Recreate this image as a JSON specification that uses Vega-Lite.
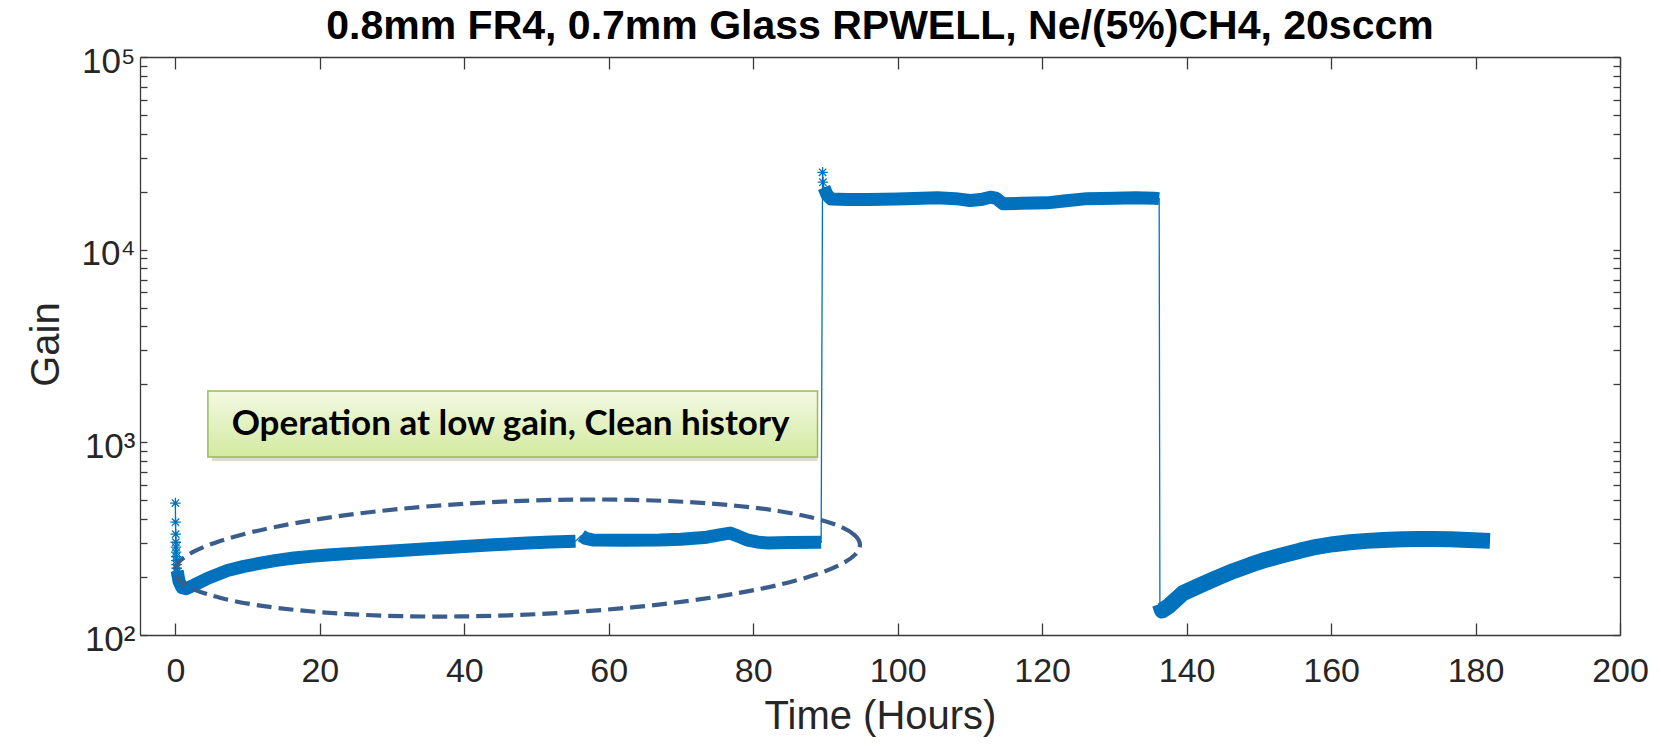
{
  "$schema": "https://vega.github.io/schema/vega-lite/v6.json",
  "width": 1480,
  "height": 578,
  "autosize": {"type": "none"},
  "padding": {"left": 140, "top": 57, "right": 39, "bottom": 112},
  "background": "white",
  "title": {
    "text": "0.8mm FR4, 0.7mm Glass RPWELL, Ne/(5%)CH4, 20sccm",
    "font": "Liberation Sans",
    "fontSize": 41,
    "fontWeight": "bold",
    "color": "#000000",
    "anchor": "middle",
    "frame": "group",
    "baseline": "alphabetic",
    "offset": -36
  },
  "config": {"view": {"stroke": null}, "font": "Liberation Sans"},
  "datasets": {
    "gain": [
      {"t": 0.00, "gain": 484, "part": "a"},
      {"t": 0.02, "gain": 385, "part": "a"},
      {"t": 0.04, "gain": 334, "part": "a"},
      {"t": 0.06, "gain": 303, "part": "a"},
      {"t": 0.08, "gain": 286, "part": "a"},
      {"t": 0.10, "gain": 269, "part": "a"},
      {"t": 0.12, "gain": 255, "part": "a"},
      {"t": 0.14, "gain": 243, "part": "a"},
      {"t": 0.16, "gain": 232, "part": "a"},
      {"t": 0.18, "gain": 222, "part": "a"},
      {"t": 0.20, "gain": 212, "part": "a"},
      {"t": 0.22, "gain": 203, "part": "a"},
      {"t": 0.25, "gain": 215, "part": "s1"},
      {"t": 0.5, "gain": 190, "part": "s1"},
      {"t": 0.9, "gain": 176, "part": "s1"},
      {"t": 1.5, "gain": 174, "part": "s1"},
      {"t": 2.5, "gain": 181, "part": "s1"},
      {"t": 4.5, "gain": 197, "part": "s1"},
      {"t": 7.2, "gain": 216, "part": "s1"},
      {"t": 9.5, "gain": 227, "part": "s1"},
      {"t": 11.8, "gain": 236, "part": "s1"},
      {"t": 14, "gain": 244, "part": "s1"},
      {"t": 16.4, "gain": 251, "part": "s1"},
      {"t": 18.7, "gain": 256, "part": "s1"},
      {"t": 21, "gain": 260, "part": "s1"},
      {"t": 25, "gain": 266, "part": "s1"},
      {"t": 30, "gain": 273, "part": "s1"},
      {"t": 35, "gain": 280, "part": "s1"},
      {"t": 40, "gain": 288, "part": "s1"},
      {"t": 44, "gain": 294, "part": "s1"},
      {"t": 48.7, "gain": 300, "part": "s1"},
      {"t": 52, "gain": 304, "part": "s1"},
      {"t": 55.4, "gain": 307, "part": "s1"},
      {"t": 56.2, "gain": 328, "part": "s2"},
      {"t": 56.8, "gain": 317, "part": "s2"},
      {"t": 57.9, "gain": 311, "part": "s2"},
      {"t": 62, "gain": 310, "part": "s2"},
      {"t": 67, "gain": 311, "part": "s2"},
      {"t": 70, "gain": 314, "part": "s2"},
      {"t": 73.6, "gain": 322, "part": "s2"},
      {"t": 75.5, "gain": 332, "part": "s2"},
      {"t": 76.8, "gain": 338, "part": "s2"},
      {"t": 78, "gain": 325, "part": "s2"},
      {"t": 79.1, "gain": 312, "part": "s2"},
      {"t": 80.5, "gain": 304, "part": "s2"},
      {"t": 82, "gain": 300, "part": "s2"},
      {"t": 85, "gain": 302, "part": "s2"},
      {"t": 89.4, "gain": 303, "part": "s2"},
      {"t": 89.6, "gain": 25200, "part": "k"},
      {"t": 89.65, "gain": 22400, "part": "k"},
      {"t": 89.8, "gain": 21000, "part": "s3"},
      {"t": 90.2, "gain": 19300, "part": "s3"},
      {"t": 90.8, "gain": 18300, "part": "s3"},
      {"t": 93, "gain": 18200, "part": "s3"},
      {"t": 96, "gain": 18200, "part": "s3"},
      {"t": 100, "gain": 18300, "part": "s3"},
      {"t": 105.5, "gain": 18600, "part": "s3"},
      {"t": 108, "gain": 18400, "part": "s3"},
      {"t": 110, "gain": 18000, "part": "s3"},
      {"t": 111.5, "gain": 18200, "part": "s3"},
      {"t": 112.8, "gain": 18700, "part": "s3"},
      {"t": 113.6, "gain": 18500, "part": "s3"},
      {"t": 114.6, "gain": 17300, "part": "s3"},
      {"t": 117, "gain": 17400, "part": "s3"},
      {"t": 120.7, "gain": 17500, "part": "s3"},
      {"t": 123, "gain": 17900, "part": "s3"},
      {"t": 126.2, "gain": 18400, "part": "s3"},
      {"t": 130, "gain": 18500, "part": "s3"},
      {"t": 133, "gain": 18600, "part": "s3"},
      {"t": 135.5, "gain": 18500, "part": "s3"},
      {"t": 136.2, "gain": 18400, "part": "s3"},
      {"t": 136.3, "gain": 145, "part": "s4"},
      {"t": 136.6, "gain": 134, "part": "s4"},
      {"t": 137.5, "gain": 141, "part": "s4"},
      {"t": 139.5, "gain": 165, "part": "s4"},
      {"t": 142, "gain": 182, "part": "s4"},
      {"t": 144.2, "gain": 198, "part": "s4"},
      {"t": 146.5, "gain": 215, "part": "s4"},
      {"t": 148.8, "gain": 231, "part": "s4"},
      {"t": 151, "gain": 246, "part": "s4"},
      {"t": 153.4, "gain": 260, "part": "s4"},
      {"t": 155.7, "gain": 274, "part": "s4"},
      {"t": 158, "gain": 287, "part": "s4"},
      {"t": 160.3, "gain": 296, "part": "s4"},
      {"t": 162.6, "gain": 303, "part": "s4"},
      {"t": 165, "gain": 308, "part": "s4"},
      {"t": 167.2, "gain": 311, "part": "s4"},
      {"t": 170, "gain": 314, "part": "s4"},
      {"t": 172, "gain": 315, "part": "s4"},
      {"t": 174, "gain": 315, "part": "s4"},
      {"t": 176.5, "gain": 314, "part": "s4"},
      {"t": 179, "gain": 311, "part": "s4"},
      {"t": 182, "gain": 308, "part": "s4"}
    ],
    "ellipse": [
      {"i": 0, "t": 94.77, "gain": 294.9},
      {"i": 1, "t": 93.99, "gain": 331.1},
      {"i": 2, "t": 91.81, "gain": 368.7},
      {"i": 3, "t": 88.26, "gain": 405.7},
      {"i": 4, "t": 83.47, "gain": 440.1},
      {"i": 5, "t": 77.59, "gain": 468.8},
      {"i": 6, "t": 70.78, "gain": 490.6},
      {"i": 7, "t": 63.27, "gain": 502.7},
      {"i": 8, "t": 55.27, "gain": 504.5},
      {"i": 9, "t": 47.02, "gain": 495.7},
      {"i": 10, "t": 38.80, "gain": 476.8},
      {"i": 11, "t": 30.82, "gain": 450.2},
      {"i": 12, "t": 23.35, "gain": 417.6},
      {"i": 13, "t": 16.61, "gain": 380.7},
      {"i": 14, "t": 10.80, "gain": 343.4},
      {"i": 15, "t": 6.10, "gain": 306.8},
      {"i": 16, "t": 2.66, "gain": 272.2},
      {"i": 17, "t": 0.57, "gain": 241.0},
      {"i": 18, "t": -0.10, "gain": 213.6},
      {"i": 19, "t": 0.68, "gain": 190.3},
      {"i": 20, "t": 2.87, "gain": 170.8},
      {"i": 21, "t": 6.41, "gain": 155.2},
      {"i": 22, "t": 11.20, "gain": 143.1},
      {"i": 23, "t": 17.08, "gain": 134.4},
      {"i": 24, "t": 23.89, "gain": 128.4},
      {"i": 25, "t": 31.40, "gain": 125.2},
      {"i": 26, "t": 39.40, "gain": 124.8},
      {"i": 27, "t": 47.65, "gain": 127.1},
      {"i": 28, "t": 55.88, "gain": 132.1},
      {"i": 29, "t": 63.85, "gain": 139.9},
      {"i": 30, "t": 71.32, "gain": 150.8},
      {"i": 31, "t": 78.06, "gain": 165.4},
      {"i": 32, "t": 83.88, "gain": 183.4},
      {"i": 33, "t": 88.57, "gain": 205.3},
      {"i": 34, "t": 92.01, "gain": 231.4},
      {"i": 35, "t": 94.10, "gain": 261.3}
    ],
    "note": [
      {"t": 4.5, "t2": 88.9, "gain": 839, "gain2": 1846, "tx": 46.4, "gy": 1245, "label": "Operation at low gain, Clean history"}
    ]
  },
  "layer": [
    {
      "data": {"name": "gain"},
      "mark": {"type": "line", "color": "#0072BD", "strokeWidth": 1.3},
      "encoding": {
        "x": {
          "field": "t", "type": "quantitative",
          "scale": {"domain": [-4.9, 200], "nice": false, "zero": false},
          "axis": {
            "orient": "bottom",
            "values": [0, 20, 40, 60, 80, 100, 120, 140, 160, 180, 200],
            "grid": false,
            "domainColor": "#3a3a3a", "domainWidth": 1.3,
            "tickColor": "#3a3a3a", "tickWidth": 1.3, "tickSize": -12,
            "labelFont": "Liberation Sans", "labelFontSize": 34, "labelColor": "#262626",
            "labelPadding": 31, "labelFlush": false,
            "title": "Time (Hours)",
            "titleFont": "Liberation Sans", "titleFontSize": 40, "titleFontWeight": "normal",
            "titleColor": "#262626", "titleY": 93, "titleBaseline": "alphabetic"
          }
        },
        "y": {
          "field": "gain", "type": "quantitative",
          "scale": {"type": "log", "domain": [100, 100000], "nice": false},
          "axis": {
            "orient": "left",
            "values": [100, 200, 300, 400, 500, 600, 700, 800, 900, 1000, 2000, 3000, 4000, 5000, 6000, 7000, 8000, 9000, 10000, 20000, 30000, 40000, 50000, 60000, 70000, 80000, 90000, 100000],
            "grid": false,
            "domainColor": "#3a3a3a", "domainWidth": 1.3,
            "tickColor": "#3a3a3a", "tickWidth": 1.3, "tickSize": -7,
            "labelExpr": "datum.value == 100 ? '10²' : datum.value == 1000 ? '10³' : datum.value == 10000 ? '10⁴' : datum.value == 100000 ? '10⁵' : ''",
            "labelFont": "Liberation Sans", "labelFontSize": 35, "labelColor": "#262626",
            "labelPadding": 12, "labelOffset": 4, "labelFlush": false, "labelOverlap": false,
            "title": "Gain",
            "titleFont": "Liberation Sans", "titleFontSize": 40, "titleFontWeight": "normal",
            "titleColor": "#262626", "titleX": -82, "titleY": 287, "titleBaseline": "alphabetic"
          }
        }
      }
    },
    {
      "data": {"name": "note"},
      "mark": {"type": "rect", "fill": "#7f7f7f", "opacity": 0.28},
      "encoding": {
        "x": {"field": "t", "type": "quantitative", "axis": null},
        "x2": {"field": "t2"},
        "y": {"field": "gain", "type": "quantitative", "axis": null},
        "y2": {"field": "gain2"},
        "xOffset": {"value": 4},
        "yOffset": {"value": 4}
      }
    },
    {
      "data": {"name": "note"},
      "mark": {
        "type": "rect",
        "stroke": "#9BBB59", "strokeWidth": 1.5,
        "fill": {
          "gradient": "linear", "x1": 0, "y1": 0, "x2": 0, "y2": 1,
          "stops": [{"offset": 0, "color": "#F3F9E3"}, {"offset": 1, "color": "#D3EAA0"}]
        }
      },
      "encoding": {
        "x": {"field": "t", "type": "quantitative", "axis": null},
        "x2": {"field": "t2"},
        "y": {"field": "gain", "type": "quantitative", "axis": null},
        "y2": {"field": "gain2"}
      }
    },
    {
      "data": {"name": "note"},
      "mark": {"type": "text", "font": "Lato", "fontSize": 35, "fontWeight": "bold", "color": "#000000", "align": "center", "baseline": "middle"},
      "encoding": {
        "x": {"field": "tx", "type": "quantitative", "axis": null},
        "y": {"field": "gy", "type": "quantitative", "axis": null},
        "text": {"field": "label"}
      }
    },
    {
      "data": {"name": "gain"},
      "transform": [{"filter": "datum.part == 's1' || datum.part == 's2' || datum.part == 's3'"}],
      "mark": {"type": "line", "color": "#0072BD", "strokeWidth": 13, "strokeCap": "butt", "strokeJoin": "round"},
      "encoding": {
        "x": {"field": "t", "type": "quantitative", "axis": null},
        "y": {"field": "gain", "type": "quantitative", "axis": null},
        "detail": {"field": "part"}
      }
    },
    {
      "data": {"name": "gain"},
      "transform": [{"filter": "datum.part == 's4'"}],
      "mark": {"type": "line", "color": "#0072BD", "strokeWidth": 16, "strokeCap": "butt", "strokeJoin": "round"},
      "encoding": {
        "x": {"field": "t", "type": "quantitative", "axis": null},
        "y": {"field": "gain", "type": "quantitative", "axis": null}
      }
    },
    {
      "data": {"name": "gain"},
      "transform": [{"filter": "datum.part == 'a' || datum.part == 'k'"}],
      "mark": {
        "type": "point",
        "shape": "M-1,0L1,0M0,-1L0,1M-0.7,-0.7L0.7,0.7M-0.7,0.7L0.7,-0.7",
        "filled": false, "color": "#0072BD", "strokeWidth": 1.3, "size": 110, "opacity": 1
      },
      "encoding": {
        "x": {"field": "t", "type": "quantitative", "axis": null},
        "y": {"field": "gain", "type": "quantitative", "axis": null}
      }
    },
    {
      "data": {"name": "ellipse"},
      "mark": {"type": "line", "color": "#3A5D8C", "strokeWidth": 4.2, "strokeDash": [15, 7], "interpolate": "cardinal-closed"},
      "encoding": {
        "x": {
          "field": "t", "type": "quantitative",
          "axis": {
            "orient": "top",
            "values": [0, 20, 40, 60, 80, 100, 120, 140, 160, 180, 200],
            "grid": false, "labels": false, "title": null,
            "domainColor": "#3a3a3a", "domainWidth": 1.3,
            "tickColor": "#3a3a3a", "tickWidth": 1.3, "tickSize": -12
          }
        },
        "y": {
          "field": "gain", "type": "quantitative",
          "axis": {
            "orient": "right",
            "values": [100, 200, 300, 400, 500, 600, 700, 800, 900, 1000, 2000, 3000, 4000, 5000, 6000, 7000, 8000, 9000, 10000, 20000, 30000, 40000, 50000, 60000, 70000, 80000, 90000, 100000],
            "grid": false, "labels": false, "title": null,
            "domainColor": "#3a3a3a", "domainWidth": 1.3,
            "tickColor": "#3a3a3a", "tickWidth": 1.3, "tickSize": -7
          }
        },
        "order": {"field": "i", "type": "quantitative"}
      }
    }
  ],
  "resolve": {"axis": {"x": "independent", "y": "independent"}}
}
